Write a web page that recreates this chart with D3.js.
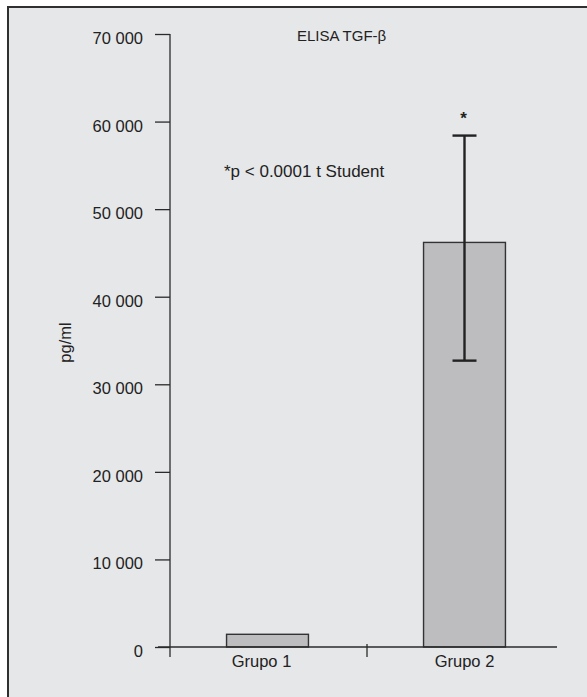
<!DOCTYPE html>
<html>
<head>
<meta charset="utf-8">
<script src="https://cdn.jsdelivr.net/npm/d3@7"></script>
<style>
  html, body { margin: 0; padding: 0; background: #ffffff; }
  svg { display: block; font-family: "Liberation Sans", Arial, Helvetica, sans-serif; }
</style>
</head>
<body>
<svg id="chart" width="587" height="697"></svg>
<script>
// ELISA TGF-β concentration by group (pg/ml)
const groups = ["Grupo 1", "Grupo 2"];
const means = [1450, 46200];
const errLower = [null, 32700];
const errUpper = [null, 58400];
const significant = [false, true];
const yTicks = [0, 10000, 20000, 30000, 40000, 50000, 60000, 70000];
const yTickLabels = ["0", "10 000", "20 000", "30 000", "40 000", "50 000", "60 000", "70 000"];
const titleText = "ELISA TGF-β";
const yAxisTitle = "pg/ml";
const noteText = "*p < 0.0001 t Student";

const W = 587, H = 697;
const svg = d3.select("#chart");
const ink = "#2b2b2b";

// panel background with top/left rule
svg.append("rect").attr("x", 8).attr("y", 7).attr("width", W - 8).attr("height", H - 7)
  .attr("fill", "#e6e7e9");
svg.append("path").attr("d", `M8,${H} V7 H${W}`)
  .attr("fill", "none").attr("stroke", "#303030").attr("stroke-width", 2);

const y = d3.scaleLinear().domain([0, 70000]).range([647, 34]);
const x = d3.scaleBand().domain(groups).range([172, 562]).padding(0);
const barW = x.bandwidth() * 0.42;
const xAxisEnd = 557;

// y axis
const yAxis = d3.axisLeft(y).tickValues(yTicks)
  .tickFormat((d, i) => yTickLabels[i])
  .tickSize(15).tickPadding(12).tickSizeOuter(0);
const gy = svg.append("g").attr("transform", "translate(170,0)").call(yAxis);
gy.select(".domain").remove();
gy.selectAll(".tick line").attr("stroke", ink).attr("stroke-width", 1.3);
gy.selectAll(".tick text").attr("fill", "#222").attr("font-size", 16.5)
  .attr("font-family", "Liberation Sans, Arial, sans-serif")
  .attr("dy", null).attr("y", 9.5);
svg.append("line").attr("x1", 170).attr("x2", 170)
  .attr("y1", y(70000)).attr("y2", y(0) + 10)
  .attr("stroke", ink).attr("stroke-width", 1.3);

// bars
svg.selectAll("rect.bar").data(groups).join("rect").attr("class", "bar")
  .attr("x", d => x(d) + x.bandwidth() / 2 - barW / 2 - (d === groups[0] ? 2 : 0))
  .attr("width", barW)
  .attr("y", (d, i) => y(means[i]))
  .attr("height", (d, i) => y(0) - y(means[i]))
  .attr("fill", "#bdbdbf").attr("stroke", "#333").attr("stroke-width", 1.4);

// x axis
svg.append("line").attr("x1", 158).attr("x2", xAxisEnd)
  .attr("y1", y(0)).attr("y2", y(0))
  .attr("stroke", ink).attr("stroke-width", 1.4);
const boundaries = groups.slice(1).map(g => x(g));
svg.selectAll("line.xtick").data(boundaries).join("line").attr("class", "xtick")
  .attr("x1", d => d).attr("x2", d => d)
  .attr("y1", y(0) - 3).attr("y2", y(0) + 10)
  .attr("stroke", ink).attr("stroke-width", 1.3);
svg.selectAll("text.xlab").data(groups).join("text").attr("class", "xlab")
  .attr("x", (d, i) => x(d) + x.bandwidth() / 2 - (i === 0 ? 8 : 0))
  .attr("y", 666.5)
  .attr("text-anchor", "middle").attr("font-size", 16.5).attr("fill", "#222")
  .text(d => d);

// error bars
const errIdx = groups.map((g, i) => i).filter(i => errUpper[i] != null);
const capW = 24;
errIdx.forEach(i => {
  const cx = x(groups[i]) + x.bandwidth() / 2;
  const g = svg.append("g").attr("stroke", "#222").attr("stroke-width", 2.4);
  g.append("line").attr("x1", cx).attr("x2", cx).attr("y1", y(errUpper[i])).attr("y2", y(errLower[i]));
  g.append("line").attr("x1", cx - capW / 2).attr("x2", cx + capW / 2).attr("y1", y(errUpper[i])).attr("y2", y(errUpper[i]));
  g.append("line").attr("x1", cx - capW / 2).attr("x2", cx + capW / 2).attr("y1", y(errLower[i])).attr("y2", y(errLower[i]));
  if (significant[i]) {
    svg.append("text").attr("x", cx - 1).attr("y", y(errUpper[i]) - 12)
      .attr("text-anchor", "middle").attr("font-size", 17).attr("font-weight", "bold")
      .attr("fill", "#222").text("*");
  }
});

// titles and note
svg.append("text").attr("x", 297).attr("y", 40.5)
  .attr("font-size", 15).attr("fill", "#222").text(titleText);
svg.append("text").attr("transform", "translate(71,342.5) rotate(-90)")
  .attr("text-anchor", "middle").attr("font-size", 16.5).attr("fill", "#222").text(yAxisTitle);
svg.append("text").attr("x", 224).attr("y", 176.5)
  .attr("font-size", 17).attr("fill", "#222").text(noteText);
</script>
</body>
</html>
